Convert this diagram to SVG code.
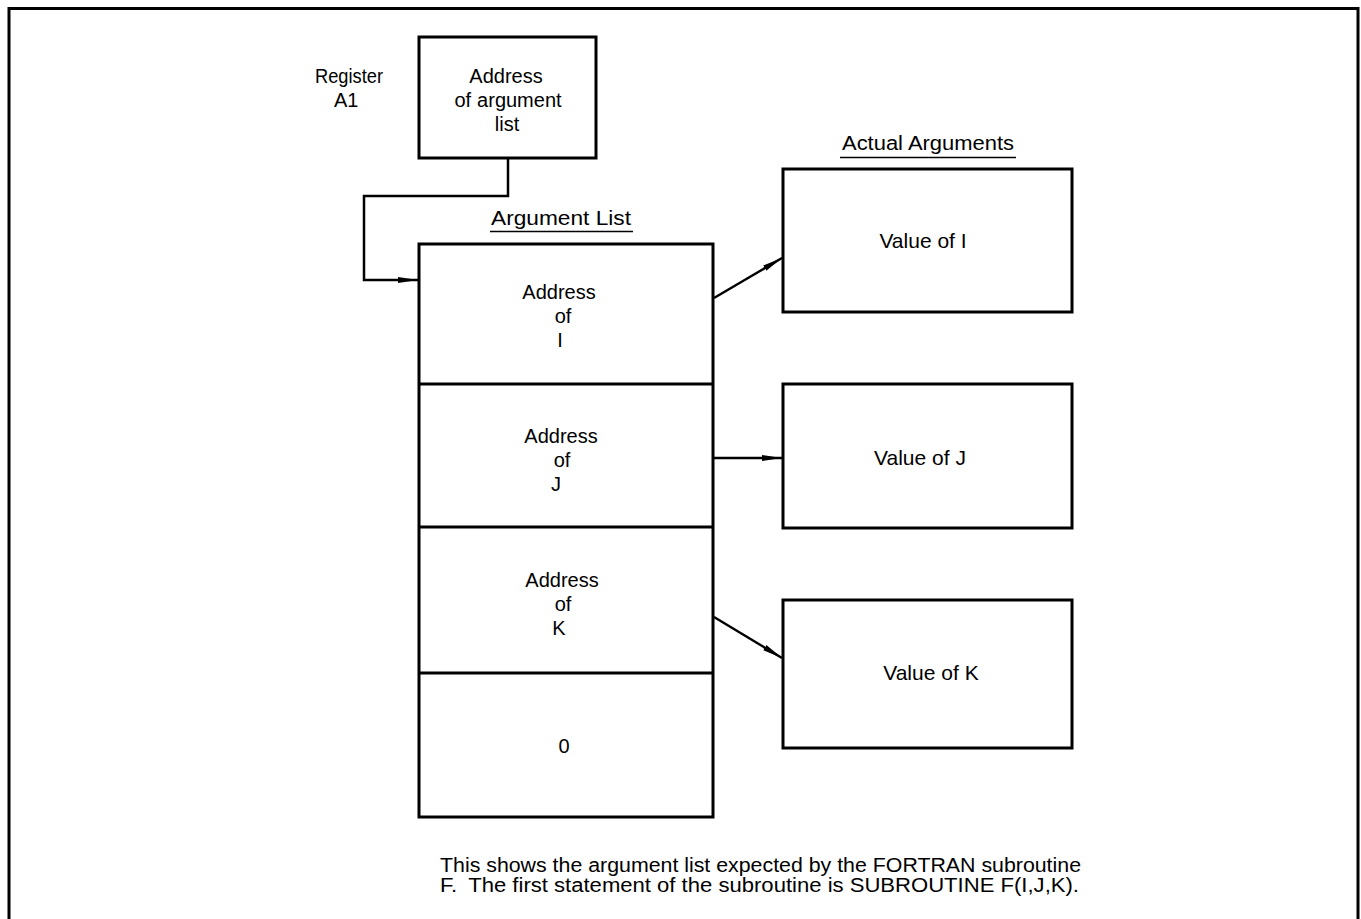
<svg xmlns="http://www.w3.org/2000/svg" width="1361" height="919" viewBox="0 0 1361 919">
  <style>
    .box { fill: #fff; stroke: #000; stroke-width: 3; }
    .line { fill: none; stroke: #000; stroke-width: 2.5; }
    text { font-family: "Liberation Sans", Arial, sans-serif; font-size: 20px; fill: #000; }
    .c { text-anchor: middle; }
    .val { font-size: 21px; text-anchor: middle; }
  </style>
  <defs>
    <marker id="arrow" viewBox="0 0 20 8" refX="20" refY="4" markerWidth="20" markerHeight="8" markerUnits="userSpaceOnUse" orient="auto">
      <path d="M0,1 L20,4 L0,7 Z" fill="#000"/>
    </marker>
  </defs>

  <rect width="1361" height="919" fill="#fff"/>

  <!-- page frame (open at the bottom) -->
  <path d="M9,919 V8.5 H1358 V919" fill="none" stroke="#000" stroke-width="3"/>

  <!-- register A1 -->
  <g id="register-a1">
    <text x="315" y="83" textLength="68" lengthAdjust="spacingAndGlyphs">Register</text>
    <text x="334" y="107">A1</text>
    <rect class="box" x="419" y="37" width="177" height="121"/>
    <text class="c" x="506" y="83">Address</text>
    <text class="c" x="508" y="107">of<tspan dx="6">argument</tspan></text>
    <text class="c" x="507" y="131">list</text>
  </g>

  <!-- argument list -->
  <g id="argument-list">
    <text x="491" y="225" textLength="140" lengthAdjust="spacingAndGlyphs">Argument List</text>
    <line x1="490" y1="231.5" x2="633" y2="231.5" stroke="#000" stroke-width="1.5"/>
    <rect class="box" x="419" y="244" width="294" height="573"/>
    <line x1="419" y1="384" x2="713" y2="384" stroke="#000" stroke-width="3"/>
    <line x1="419" y1="527" x2="713" y2="527" stroke="#000" stroke-width="3"/>
    <line x1="419" y1="673" x2="713" y2="673" stroke="#000" stroke-width="3"/>
  </g>
  <g id="address-of-i">
    <text class="c" x="559" y="299">Address</text>
    <text class="c" x="563" y="323">of</text>
    <text class="c" x="560" y="347">I</text>
  </g>
  <g id="address-of-j">
    <text class="c" x="561" y="443">Address</text>
    <text class="c" x="562" y="467">of</text>
    <text class="c" x="556" y="491">J</text>
  </g>
  <g id="address-of-k">
    <text class="c" x="562" y="587">Address</text>
    <text class="c" x="563" y="611">of</text>
    <text class="c" x="559" y="635">K</text>
  </g>
  <g id="terminator">
    <text class="c" x="564" y="753">0</text>
  </g>

  <!-- actual arguments -->
  <g id="actual-arguments">
    <text x="842" y="150" textLength="172" lengthAdjust="spacingAndGlyphs">Actual Arguments</text>
    <line x1="840" y1="157.5" x2="1016" y2="157.5" stroke="#000" stroke-width="1.5"/>
  </g>
  <g id="value-of-i">
    <rect class="box" x="783" y="169" width="289" height="143"/>
    <text class="val" x="923" y="248">Value of I</text>
  </g>
  <g id="value-of-j">
    <rect class="box" x="783" y="384" width="289" height="144"/>
    <text class="val" x="920" y="465">Value of J</text>
  </g>
  <g id="value-of-k">
    <rect class="box" x="783" y="600" width="289" height="148"/>
    <text class="val" x="931" y="680">Value of<tspan dx="6">K</tspan></text>
  </g>

  <!-- connectors -->
  <g id="connectors">
    <polyline class="line" points="508,158 508,196 364,196 364,280 418,280" marker-end="url(#arrow)"/>
    <line class="line" x1="714" y1="298" x2="782" y2="258" marker-end="url(#arrow)"/>
    <line class="line" x1="714" y1="458" x2="782" y2="458" marker-end="url(#arrow)"/>
    <line class="line" x1="714" y1="617" x2="782" y2="658" marker-end="url(#arrow)"/>
  </g>

  <!-- caption -->
  <g id="caption">
    <text x="440" y="872" font-size="18" textLength="641" lengthAdjust="spacingAndGlyphs">This shows the argument list expected by the FORTRAN subroutine</text>
    <text x="440" y="892" font-size="18" textLength="639" lengthAdjust="spacingAndGlyphs">F.<tspan dx="10">The first statement of the subroutine is SUBROUTINE F(I,J,K).</tspan></text>
  </g>
</svg>
